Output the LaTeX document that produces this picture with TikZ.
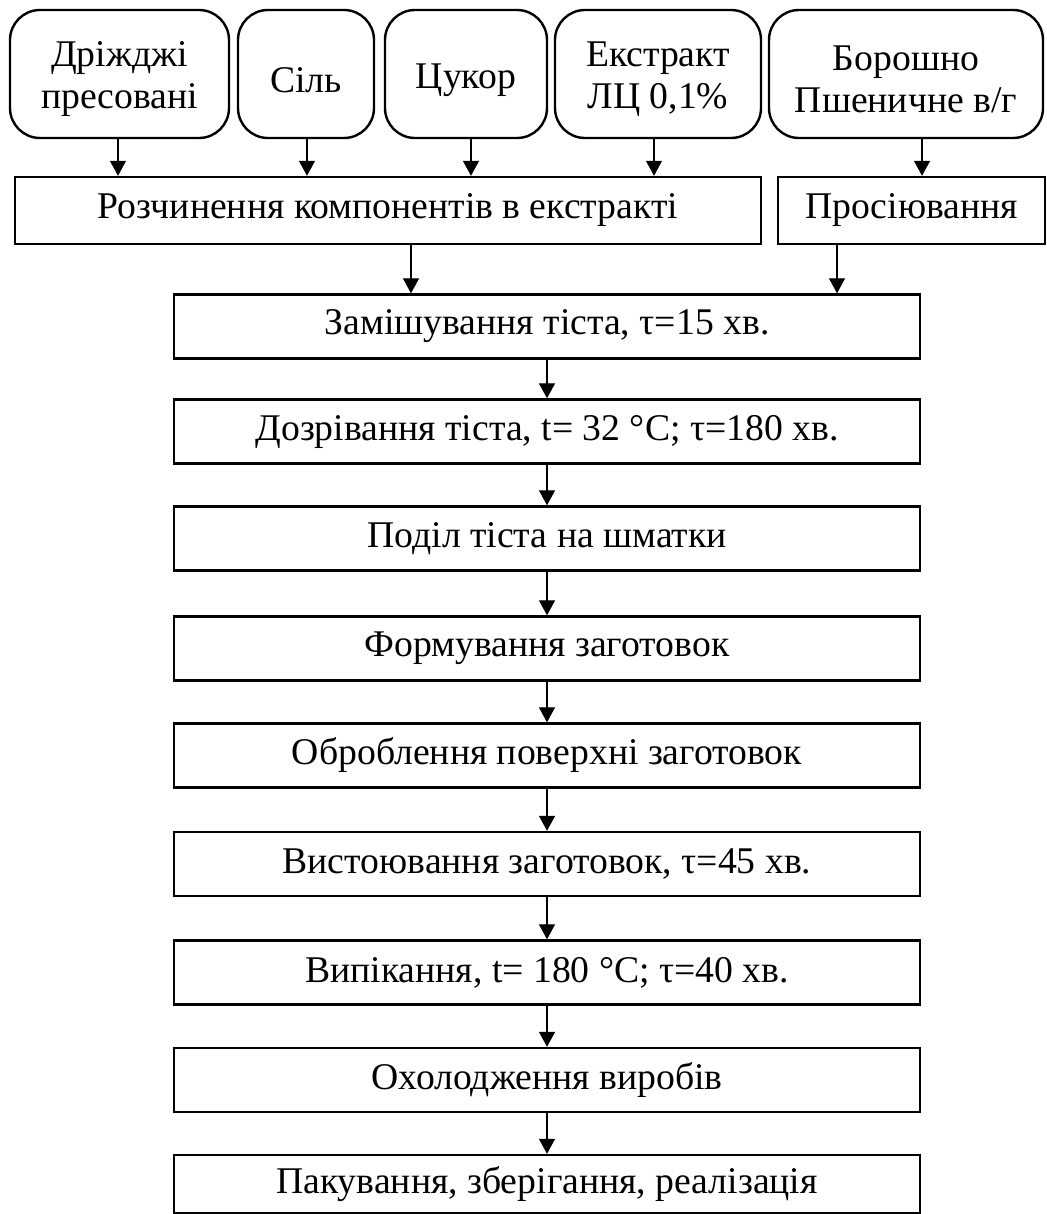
\documentclass[tikz,border=0pt]{standalone}
\usepackage{fontspec}
\setmainfont{Liberation Serif}
\usetikzlibrary{arrows.meta}
\begin{document}
\begin{tikzpicture}[x=1pt,y=-1pt,
  src/.style={draw,line width=2.4pt,rounded corners=30pt,inner sep=0pt,minimum height=128pt},
  srctext/.style={align=center,inner sep=0pt,font=\fontsize{37.7}{42}\selectfont},
  box/.style={draw,line width=2.4pt,align=center,inner sep=0pt,minimum height=64pt,font=\fontsize{37.7}{43}\selectfont},
  arr/.style={line width=1.3pt,-{Triangle[length=15pt,width=16pt]}}]
\useasboundingbox (0,0) rectangle (1046,1214);
% sources
\node[src,minimum width=219pt] (b1) at (119.5,74) {};
\node[src,minimum width=136pt] (b2) at (306,74) {};
\node[src,minimum width=162pt] (b3) at (466,74) {};
\node[src,minimum width=206pt] (b4) at (658,74) {};
\node[src,minimum width=274pt] (b5) at (906,74) {};
\node[srctext] (t1) at ([yshift=-5pt]b1.center) {Дріжджі\\пресовані};
\node[srctext] (t2) at ([yshift=-6pt]b2.center) {Сіль};
\node[srctext] (t3) at ([yshift=-6pt]b3.center) {Цукор};
\node[srctext] (t4) at ([yshift=-5pt]b4.center) {Екстракт\\ЛЦ 0,1\%};
\node[srctext] (t5) at ([yshift=-5pt]b5.center) {Борошно\\Пшеничне в/г};
% second row
\node[box,minimum width=746pt,minimum height=67pt] (r) at (388,210.5) {Розчинення компонентів в екстракті};
\node[box,minimum width=267pt,minimum height=67pt] (p) at (911.5,210.5) {Просіювання};
% main chain
\node[box,minimum width=746pt] (m1) at (547,326.5) {Замішування тіста, τ=15 хв.};
\node[box,minimum width=746pt] (m2) at (547,431.5) {Дозрівання тіста, t= 32 °C; τ=180 хв.};
\node[box,minimum width=746pt] (m3) at (547,538.5) {Поділ тіста на шматки};
\node[box,minimum width=746pt] (m4) at (547,648.5) {Формування заготовок};
\node[box,minimum width=746pt] (m5) at (547,755.5) {Оброблення поверхні заготовок};
\node[box,minimum width=746pt] (m6) at (547,864) {Вистоювання заготовок, τ=45 хв.};
\node[box,minimum width=746pt] (m7) at (547,972.5) {Випікання, t= 180 °C; τ=40 хв.};
\node[box,minimum width=746pt] (m8) at (547,1080) {Охолодження виробів};
\node[box,minimum width=746pt,minimum height=58pt] (m9) at (547,1184) {Пакування, зберігання, реалізація};
% arrows from sources
\draw[arr] ([xshift=-1.5pt]b1.south) -- ([xshift=-1.5pt]b1.south |- r.north);
\draw[arr] ([xshift=1pt]b2.south) -- ([xshift=1pt]b2.south |- r.north);
\draw[arr] ([xshift=5pt]b3.south) -- ([xshift=5pt]b3.south |- r.north);
\draw[arr] ([xshift=-4pt]b4.south) -- ([xshift=-4pt]b4.south |- r.north);
\draw[arr] ([xshift=16pt]b5.south) -- ([xshift=16pt]b5.south |- p.north);
% arrows into mixing
\draw[arr] ([xshift=23pt]r.south) -- ([xshift=23pt]r.south |- m1.north);
\draw[arr] ([xshift=-74.5pt]p.south) -- ([xshift=-74.5pt]p.south |- m1.north);
% chain
\foreach \a/\b in {m1/m2,m2/m3,m3/m4,m4/m5,m5/m6,m6/m7,m7/m8,m8/m9}
  \draw[arr] (\a.south) -- (\b.north);
\end{tikzpicture}
\end{document}
